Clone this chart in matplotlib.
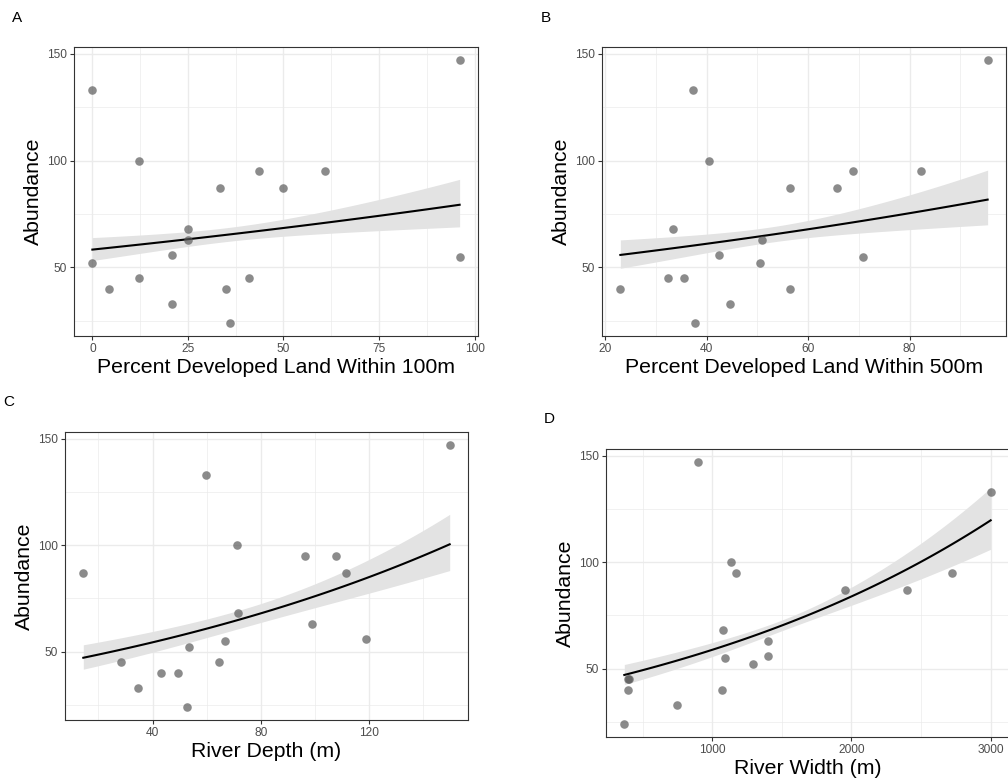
import numpy as np
import matplotlib
matplotlib.use("Agg")
import matplotlib.pyplot as plt

plt.rcParams['font.family'] = ['Liberation Sans', 'DejaVu Sans']

# abundance per site (same sites in every panel)
abundance = np.array([147, 133, 100, 95, 95, 87, 87, 68, 63, 56, 55, 52, 45, 45, 40, 40, 33, 24])

# predictors, same site order as abundance
dev100 = np.array([96.1, 0, 12.1, 43.5, 61, 33.3, 50, 25.1, 25.1, 20.9, 96.1, 0, 12.1, 40.9, 4.4, 34.9, 20.9, 36.0])
dev500 = np.array([95.4, 37.3, 40.5, 68.8, 82.2, 56.4, 65.7, 33.3, 50.9, 42.4, 70.8, 50.5, 32.3, 35.6, 23.0, 56.4, 44.7, 37.7])
depth = np.array([149.8, 59.6, 71.3, 96.2, 107.9, 14.4, 111.3, 71.6, 99.0, 118.9, 66.7, 53.4, 28.3, 64.5, 43.1, 49.4, 34.7, 52.8])
width = np.array([900, 3000, 1136, 1172, 2720, 1950, 2400, 1079, 1397, 1397, 1093, 1292, 397, 404, 395, 1072, 746, 368])

# log-link model fits: intercept, slope
fit_b0 = [4.0656, 3.9007, 3.7717, 3.7195]
fit_b1 = [0.00320, 0.005267, 0.00559, 0.000355]
# standard error of the linear predictor: floor, centre, slope
se_floor = [0.0253, 0.0279, 0.0333, 0.0182]
se_centre = [35.8, 53.3, 78.5, 1542]
se_slope = [0.001106, 0.001772, 0.000814, 4.03e-5]

panels = [
    ("A", dev100, "Percent Developed Land Within 100m", [0, 25, 50, 75, 100], [12.5, 37.5, 62.5, 87.5]),
    ("B", dev500, "Percent Developed Land Within 500m", [20, 40, 60, 80], [30, 50, 70, 90]),
    ("C", depth, "River Depth (m)", [40, 80, 120], [20, 60, 100, 140]),
    ("D", width, "River Width (m)", [1000, 2000, 3000], [500, 1500, 2500]),
]

# axes boxes in pixels: left, top, right, bottom
boxes = [(74, 47, 478, 336), (602, 47, 1006, 336), (65, 432, 468, 720), (606, 449, 1009, 737)]
letter_pos = [(12, 22), (541, 22), (3, 406), (544, 423)]

W, H = 1008, 784

fig = plt.figure(figsize=(W / 100, H / 100), dpi=100)

for i, ((letter, x, xlabel, major, minor), (l, t, r, b), (lx, ly)) in enumerate(zip(panels, boxes, letter_pos)):
    ax = fig.add_axes([l / W, 1 - b / H, (r - l) / W, (b - t) / H])
    y = abundance.astype(float)
    x = x.astype(float)

    xs = np.linspace(x.min(), x.max(), 80)
    eta = fit_b0[i] + fit_b1[i] * xs
    se = np.sqrt(se_floor[i] ** 2 + (se_slope[i] * (xs - se_centre[i])) ** 2)
    ax.fill_between(xs, np.exp(eta - 1.96 * se), np.exp(eta + 1.96 * se),
                    color='#e3e3e3', lw=0, zorder=2)
    ax.plot(xs, np.exp(eta), color='black', lw=1.5, zorder=3)
    ax.scatter(x, y, s=38, color='#5a5a5a', alpha=0.7, lw=0, zorder=4)

    xr = x.max() - x.min()
    ax.set_xlim(x.min() - 0.05 * xr, x.max() + 0.05 * xr)
    yr = y.max() - y.min()
    ax.set_ylim(y.min() - 0.05 * yr, y.max() + 0.05 * yr)

    ax.set_xticks(major)
    ax.set_xticks(minor, minor=True)
    ax.set_yticks([50, 100, 150])
    ax.set_yticks([25, 75, 125], minor=True)
    ax.grid(True, which='major', color='#ebebeb', lw=1.0, zorder=0)
    ax.grid(True, which='minor', color='#ebebeb', lw=0.5, zorder=0)
    ax.set_axisbelow(True)
    ax.tick_params(which='major', length=3, width=0.8, color='#333333',
                   labelsize=8.6, labelcolor='#4d4d4d', pad=2)
    ax.tick_params(which='minor', length=0)
    for s in ax.spines.values():
        s.set_color('#333333')
        s.set_linewidth(0.8)

    ax.set_xlabel(xlabel, fontsize=15.3, color='black', labelpad=2)
    ax.set_ylabel("Abundance", fontsize=15.3, color='black', labelpad=3)

    fig.text(lx / W, 1 - ly / H, letter, fontsize=11, ha='left', va='baseline')

fig.savefig("out.png", dpi=100, facecolor='white')
